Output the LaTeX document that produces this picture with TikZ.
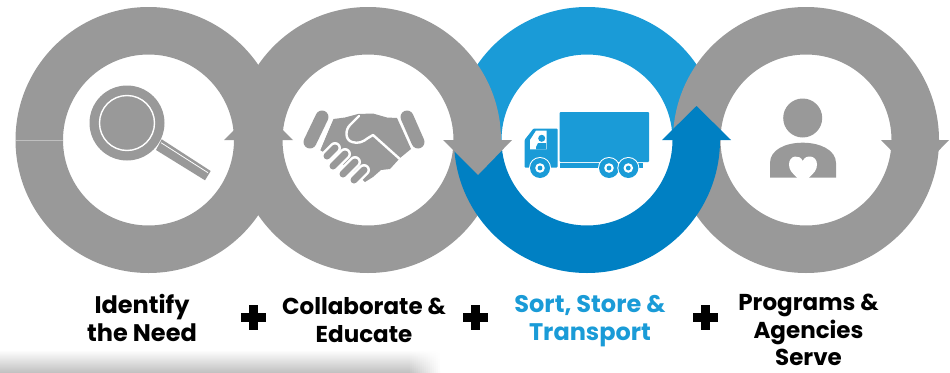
\documentclass[tikz,border=0pt]{standalone}
\usepackage{fontspec}
\setmainfont{Poppins}
\definecolor{ringgray}{HTML}{999999}
\definecolor{lightblue}{HTML}{1A9BD7}
\definecolor{darkblue}{HTML}{0080C3}
\tikzset{
  caption/.style={align=center,font=\fontsize{23}{27.5}\selectfont\bfseries,inner sep=0pt},
  widecaption/.style={caption,font=\fontsize{24}{27.5}\selectfont\bfseries},
  ring/.style={even odd rule},
  plussign/.style={fill=black,line width=0pt}
}
\newcommand{\fullring}[2]{\fill [#2,ring] (#1) circle [radius=133] (#1) circle [radius=85.5];}
\newcommand{\halfring}[4]{\fill [#4] ([shift={(#2:133)}]#1) arc [start angle=#2,end angle=#3,radius=133]
  -- ([shift={(#3:85.5)}]#1) arc [start angle=#3,end angle=#2,radius=85.5] -- cycle;}
\begin{document}
\begin{tikzpicture}[x=1pt,y=-1pt]
      \useasboundingbox (0, 0) rectangle (950, 372);
      \coordinate (c1) at (148.5, 140);
      \coordinate (c2) at (368, 140);
      \coordinate (c3) at (587, 140);
      \coordinate (c4) at (806, 140);

      % shadow bottom left
      \shade [top color=white, bottom color=black!24] (0, 350) rectangle (410, 372);
      \foreach \i in {0,...,14}
        \pgfmathsetmacro{\shadeval}{24*(1-(\i+1)/16)}
        \shade [top color=white, bottom color=black!\shadeval] (410 + 2*\i, 350) rectangle (412.1 + 2*\i, 372);

      % rings
      \halfring{c3}{180}{360}{lightblue}
      \fullring{c1}{ringgray}
      \fullring{c2}{ringgray}
      \fullring{c4}{ringgray}
      \draw [black!25, line width=0.5pt] (15.5, 140) -- (63, 140);
      \halfring{c3}{0}{180}{darkblue}

      % arrow heads
      \fill [ringgray] (224, 140) -- (258.5, 106) -- (293, 140) -- cycle;
      \fill [ringgray] (443, 140) -- (478, 175) -- (512, 140) -- cycle;
      \fill [darkblue] (662, 140) -- (696.5, 106) -- (731, 140) -- cycle;
      \fill [ringgray] (881, 140) -- (915, 175) -- (949, 140) -- cycle;

      % magnifier
      \fill [ringgray] (127, 123) circle [radius=37.5];
      \draw [white, line width=1.4pt] (127, 123) circle [radius=27.5];
      \fill [ringgray] (161.7, 139.3) -- (210.7, 171) -- (205, 180.3) -- (156, 150) -- cycle;
      \draw [white, line width=0.8pt] (161, 142.7) -- (208, 172.7);

      % handshake
      \draw [ringgray, line width=13pt, line cap=round] (322, 117) -- (310, 142);
      \draw [ringgray, line width=13pt, line cap=round] (407, 117) -- (418, 142);
      \fill [ringgray] (333.5, 119) -- (345, 117.5) -- (358, 114) -- (373, 113.5) -- (387, 117.5) -- (397, 118)
        -- (411, 149) -- (400, 158) -- (390, 169) -- (381, 170) -- (373, 177) -- (365, 182) -- (352, 170) -- (320, 150) -- cycle;
      \draw [white, line width=2.4pt, line cap=round, line join=round] (359, 116) -- (350, 125)
        .. controls (345, 130) and (345, 140) .. (352, 142) .. controls (358, 144) and (363, 142) .. (368, 138)
        -- (373, 135) -- (402, 161);
      \draw [white, line width=2.4pt] (332, 118) -- (319, 150);
      \foreach \fx/\fy/\fl in {331/152/4, 339/160/6, 349/168/6, 359/175/5}
        \draw [white, line width=12pt, line cap=round] (\fx - \fl, \fy + \fl) -- (\fx + \fl, \fy - \fl);
      \foreach \fx/\fy/\fl in {331/152/4, 339/160/6, 349/168/6, 359/175/5}
        \draw [ringgray, line width=7pt, line cap=round] (\fx - \fl, \fy + \fl) -- (\fx + \fl, \fy - \fl);

      % truck
      \fill [lightblue, rounded corners=1pt] (559.5, 112) rectangle (649, 162);
      \fill [lightblue] (559.5, 163) rectangle (643, 167.7);
      \fill [lightblue, rounded corners=1pt] (524.5, 140) -- (533.5, 128.5) -- (557.5, 128.5) -- (557.5, 167.7) -- (524.5, 167.7) -- cycle;
      \fill [white] (530, 140) -- (536, 130.7) -- (546.7, 130.7) -- (546.7, 149.3) -- (530, 149.3) -- cycle;
      \fill [lightblue] (541.7, 138.3) circle [radius=3.5];
      \fill [lightblue] (536, 147) -- (538, 143) -- (546, 143) -- (546, 149.3) -- (536, 149.3) -- cycle;
      \foreach \wx in {540, 609, 628.3} {
        \fill [white] (\wx, 168) circle [radius=11];
        \fill [lightblue] (\wx, 168) circle [radius=10];
        \fill [white] (\wx, 168) circle [radius=4.8];
        \fill [lightblue] (\wx, 168) circle [radius=2.4];
      }

      % person
      \fill [ringgray] (802.7, 118) circle [radius=19.5];
      \fill [ringgray] (770, 177.7) -- (770, 163) .. controls (770, 150) and (785, 142.7) .. (802.7, 142.7)
        .. controls (820, 142.7) and (836, 150) .. (836, 163) -- (836, 177.7) -- cycle;
      \fill [white] (798, 178.5) .. controls (792, 173) and (789, 170) .. (789, 164.5)
        .. controls (789, 155) and (800, 154) .. (802.7, 161) .. controls (805.5, 154) and (817, 155) .. (817, 164.5)
        .. controls (817, 170) and (814, 173) .. (808, 178.5) -- cycle;

      % captions
      \node [widecaption] (identify) at (142, 318) {Identify\\the Need};
      \node [caption] (collaborate) at (364, 320) {Collaborate \&\\Educate};
      \node [widecaption, text=lightblue] (sort) at (590, 321) {Sort, Store \&\\Transport};
      \node [caption] (programs) at (808.5, 330) {Programs \&\\Agencies\\Serve};

      % plus signs
      \foreach \px in {253.5, 475.5, 705.5} {
        \fill [plussign] (\px - 4.5, 305) rectangle (\px + 4.5, 330);
        \fill [plussign] (\px - 12.5, 313) rectangle (\px + 12.5, 322);
      }
    \end{tikzpicture}
\end{document}
